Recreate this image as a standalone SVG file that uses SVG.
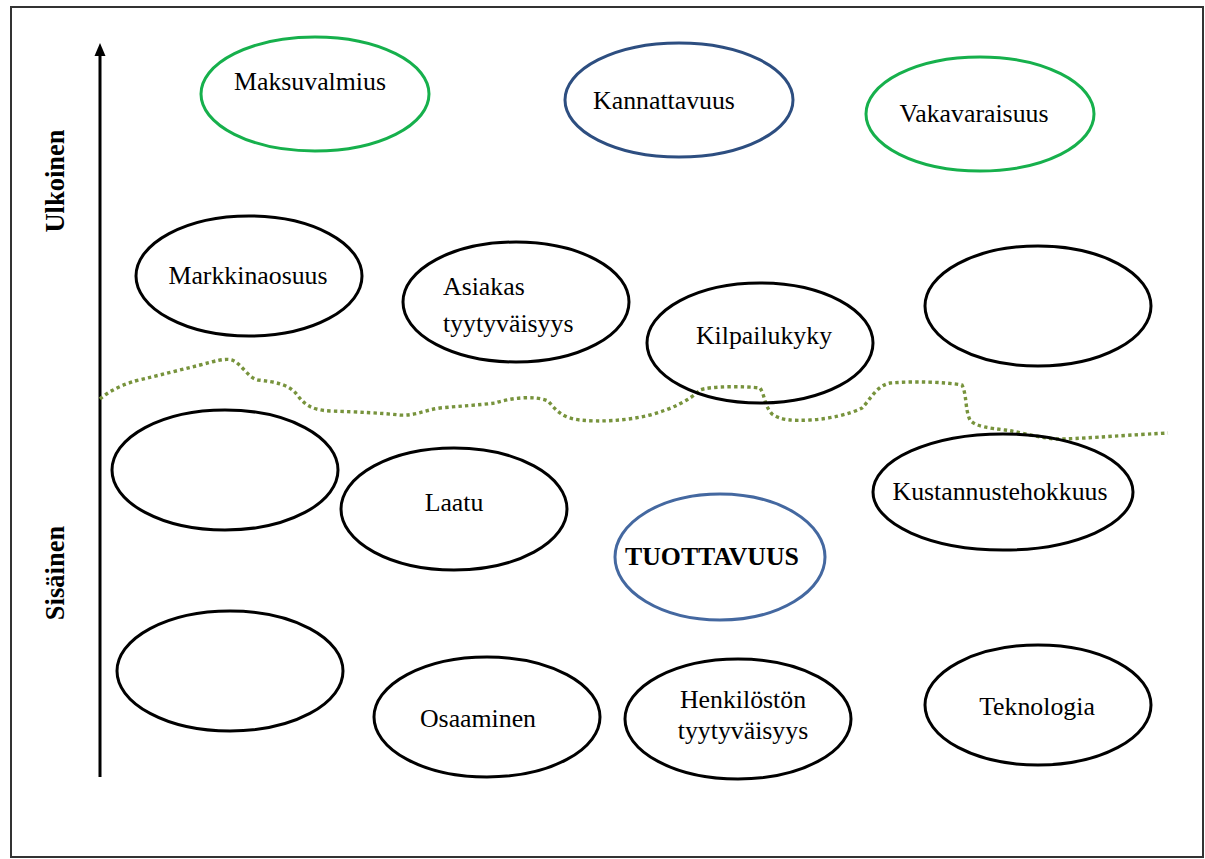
<svg xmlns="http://www.w3.org/2000/svg" width="1205" height="859" viewBox="0 0 1205 859">
  <style>
    .node { fill: none; stroke-width: 3; }
    .black { stroke: #000; }
    .green { stroke: #16B04C; }
    .navy { stroke: #2D4E80; }
    .blue { stroke: #4468A0; }
    .lbl { font-family: "Liberation Serif", "Times New Roman", serif; font-size: 25.8px; fill: #000; text-anchor: middle; }
    .left { text-anchor: start; }
    .axis { font-family: "Liberation Serif", "Times New Roman", serif; font-size: 26.5px; font-weight: bold; fill: #000; text-anchor: middle; }
  </style>

  <rect x="0" y="0" width="1205" height="859" fill="#fff"/>
  <rect x="11" y="7" width="1192" height="850" fill="#fff" stroke="#333" stroke-width="2"/>

  <!-- vertical axis and its labels -->
  <g id="axis">
    <line x1="100" y1="777" x2="100" y2="56" stroke="#000" stroke-width="3"/>
    <path d="M94.5,56 L100,43 L105.5,56 Z" fill="#000"/>
    <text class="axis" transform="translate(64,181) rotate(-90)">Ulkoinen</text>
    <text class="axis" transform="translate(64,573) rotate(-90)">Sisäinen</text>
  </g>

  <!-- boundary between external and internal -->
  <g id="connectors">
    <path d="M100,399 C110,390 125,384 135,381 C160,375 180,370 200,365 C215,361 225,358 232,360 C242,364 248,378 258,380 C275,382 290,384 298,396 C305,405 312,410 330,411 C360,412 380,413 400,415 C415,416 425,410 440,408 C460,406 480,405 495,403 C510,398 535,395 548,401 C556,410 562,418 580,420 C600,422 625,421 650,415 C672,409 690,400 700,390 C710,386 745,386 760,388 C765,395 764,405 772,414 C780,420 792,421 810,420 C830,419 850,414 862,408 C870,400 876,386 890,383 C915,381 945,382 962,385 C967,395 965,410 970,420 C976,427 990,428 1005,430 C1020,432 1035,437 1055,439 C1080,439 1110,436 1168,433" fill="none" stroke="#77933C" stroke-width="3.4" stroke-dasharray="3.4 3.2"/>
  </g>

  <g id="maksuvalmius">
    <ellipse class="node green" cx="315" cy="94" rx="114" ry="57"/>
    <text class="lbl" x="310" y="90">Maksuvalmius</text>
  </g>
  <g id="kannattavuus">
    <ellipse class="node navy" cx="679" cy="100" rx="114" ry="57"/>
    <text class="lbl" x="664" y="109">Kannattavuus</text>
  </g>
  <g id="vakavaraisuus">
    <ellipse class="node green" cx="980" cy="114" rx="114" ry="57"/>
    <text class="lbl" x="974" y="122">Vakavaraisuus</text>
  </g>
  <g id="markkinaosuus">
    <ellipse class="node black" cx="249" cy="276" rx="113" ry="60"/>
    <text class="lbl" x="248" y="284">Markkinaosuus</text>
  </g>
  <g id="asiakastyytyvaisyys">
    <ellipse class="node black" cx="516" cy="302" rx="113" ry="60"/>
    <text class="lbl left" x="443" y="295">Asiakas</text>
    <text class="lbl left" x="443" y="332">tyytyväisyys</text>
  </g>
  <g id="kilpailukyky">
    <ellipse class="node black" cx="760" cy="343" rx="113" ry="60"/>
    <text class="lbl" x="764" y="344">Kilpailukyky</text>
  </g>
  <g id="tyhja-1">
    <ellipse class="node black" cx="1038" cy="306" rx="113" ry="60"/>
  </g>
  <g id="tyhja-2">
    <ellipse class="node black" cx="225" cy="470" rx="113" ry="60"/>
  </g>
  <g id="laatu">
    <ellipse class="node black" cx="454" cy="509" rx="113" ry="61"/>
    <text class="lbl" x="454" y="511">Laatu</text>
  </g>
  <g id="kustannustehokkuus">
    <ellipse class="node black" cx="1003" cy="492" rx="130" ry="58"/>
    <text class="lbl" x="1000" y="500">Kustannustehokkuus</text>
  </g>
  <g id="tuottavuus">
    <ellipse class="node blue" cx="720" cy="557" rx="105" ry="63"/>
    <text class="lbl" x="712" y="565" font-weight="bold">TUOTTAVUUS</text>
  </g>
  <g id="tyhja-3">
    <ellipse class="node black" cx="230" cy="671" rx="113" ry="60"/>
  </g>
  <g id="osaaminen">
    <ellipse class="node black" cx="487" cy="717" rx="113" ry="60"/>
    <text class="lbl" x="478" y="727">Osaaminen</text>
  </g>
  <g id="henkilostontyytyvaisyys">
    <ellipse class="node black" cx="738" cy="719" rx="113" ry="60"/>
    <text class="lbl" x="743" y="708">Henkilöstön</text>
    <text class="lbl" x="743" y="739">tyytyväisyys</text>
  </g>
  <g id="teknologia">
    <ellipse class="node black" cx="1038" cy="705" rx="113" ry="60"/>
    <text class="lbl" x="1037" y="715">Teknologia</text>
  </g>
</svg>
